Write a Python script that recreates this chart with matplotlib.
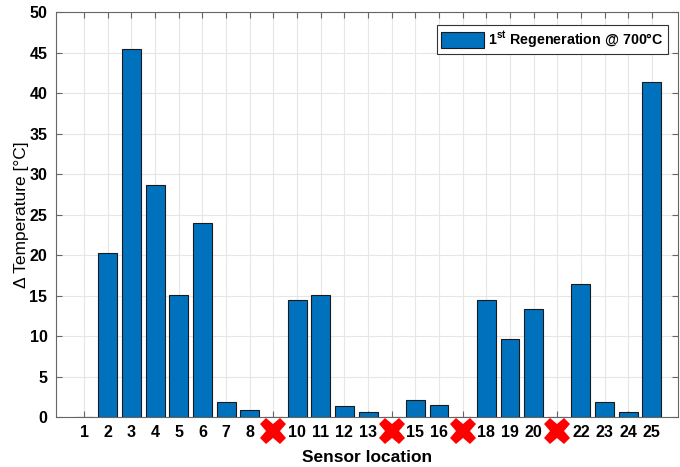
import numpy as np
import matplotlib.pyplot as plt

plt.rcParams['font.family'] = ['Liberation Sans', 'DejaVu Sans']
plt.rcParams['mathtext.fontset'] = 'custom'
plt.rcParams['mathtext.rm'] = 'Liberation Sans'
plt.rcParams['mathtext.bf'] = 'Liberation Sans:bold'

# sensor positions and temperature rise (missing sensors are NaN)
sensors = list(range(1, 26))
delta_t = [0.05, 20.3, 45.4, 28.7, 15.1, 24.0, 1.9, 0.9, np.nan, 14.4,
           15.1, 1.4, 0.6, np.nan, 2.1, 1.5, np.nan, 14.5, 9.6, 13.4,
           np.nan, 16.4, 1.8, 0.6, 41.4]
missing = [9, 14, 17, 21]
tick_labels = [str(s) if s not in missing else '' for s in sensors]

fig = plt.figure(figsize=(6.8, 4.67), dpi=100)
ax = fig.add_axes([0.082, 0.107, 0.915, 0.867])

vals = [0 if np.isnan(v) else v for v in delta_t]
ax.bar(sensors, vals, width=0.8, color='#0072BD', edgecolor='#1a1a1a', linewidth=0.8,
       label=r'$\mathbf{1^{st}}$ Regeneration @ 700°C', zorder=3)

ax.set_xlim(-0.2, 26.1)
ax.set_ylim(0, 50)
ax.set_yticks(np.arange(0, 51, 5))
ax.set_xticks(sensors)
ax.set_xticklabels(tick_labels, fontweight='bold', fontsize=11.5)
for lab in ax.get_yticklabels():
    lab.set_fontweight('bold')
    lab.set_fontsize(11.5)

ax.grid(True, color='#e6e6e6', linewidth=0.8, zorder=0)
ax.set_axisbelow(True)
ax.tick_params(direction='in', length=4, color='#666666', top=True, right=True, pad=6)
for s in ax.spines.values():
    s.set_color('#666666')
    s.set_linewidth(0.8)

# red crosses for the sensors that failed
ax.plot(missing, [-0.035] * len(missing), 'X', color='red', markersize=19,
        markeredgewidth=0, transform=ax.get_xaxis_transform(), clip_on=False, zorder=5)

ax.set_xlabel('Sensor location', fontweight='bold', fontsize=12.5, labelpad=7)
ax.set_ylabel('Δ Temperature [°C]', fontsize=12.5, labelpad=0)

leg = ax.legend(loc='upper right', prop={'weight': 'bold', 'size': 10.3},
                fancybox=False, edgecolor='#333333', framealpha=1,
                handlelength=3.0, handleheight=1.35, handletextpad=0.3,
                borderpad=0.3, borderaxespad=0, bbox_to_anchor=(0.984, 0.968))
leg.get_frame().set_linewidth(0.8)

fig.savefig('out.png', dpi=100)
